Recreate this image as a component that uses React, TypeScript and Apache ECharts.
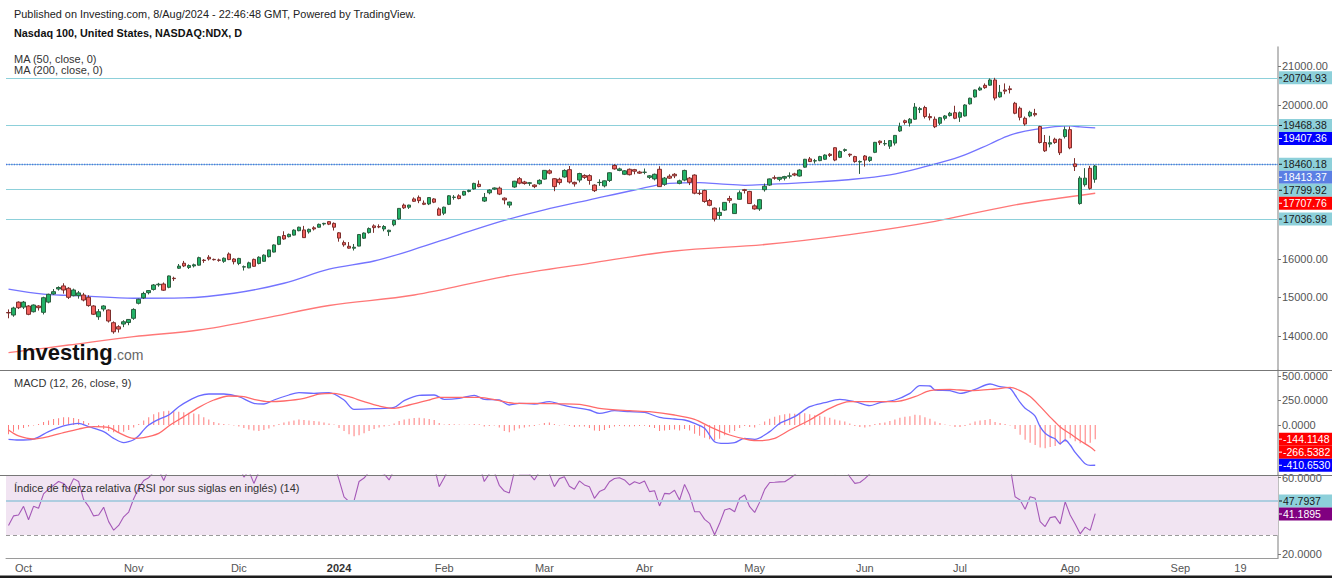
import React, { useEffect, useRef } from 'react';
import * as echarts from 'echarts';

// ---------- DATA ----------
const sessions: [string, number[]][] = [
  ['2023-09', [27, 28, 29]],
  ['2023-10', [2, 3, 4, 5, 6, 9, 10, 11, 12, 13, 16, 17, 18, 19, 20, 23, 24, 25, 26, 27, 30, 31]],
  ['2023-11', [1, 2, 3, 6, 7, 8, 9, 10, 13, 14, 15, 16, 17, 20, 21, 22, 24, 27, 28, 29, 30]],
  ['2023-12', [1, 4, 5, 6, 7, 8, 11, 12, 13, 14, 15, 18, 19, 20, 21, 22, 26, 27, 28, 29]],
  ['2024-01', [2, 3, 4, 5, 8, 9, 10, 11, 12, 16, 17, 18, 19, 22, 23, 24, 25, 26, 29, 30, 31]],
  ['2024-02', [1, 2, 5, 6, 7, 8, 9, 12, 13, 14, 15, 16, 20, 21, 22, 23, 26, 27, 28, 29]],
  ['2024-03', [1, 4, 5, 6, 7, 8, 11, 12, 13, 14, 15, 18, 19, 20, 21, 22, 25, 26, 27, 28]],
  ['2024-04', [1, 2, 3, 4, 5, 8, 9, 10, 11, 12, 15, 16, 17, 18, 19, 22, 23, 24, 25, 26, 29, 30]],
  ['2024-05', [1, 2, 3, 6, 7, 8, 9, 10, 13, 14, 15, 16, 17, 20, 21, 22, 23, 24, 28, 29, 30, 31]],
  ['2024-06', [3, 4, 5, 6, 7, 10, 11, 12, 13, 14, 17, 18, 20, 21, 24, 25, 26, 27, 28]],
  ['2024-07', [1, 2, 3, 5, 8, 9, 10, 11, 12, 15, 16, 17, 18, 19, 22, 23, 24, 25, 26, 29, 30, 31]],
  ['2024-08', [1, 2, 5, 6, 7, 8, 9, 12, 13, 14, 15, 16, 19, 20, 21, 22, 23, 26, 27, 28, 29, 30]],
  ['2024-09', [3, 4, 5, 6, 9, 10, 11, 12, 13, 16, 17, 18, 19, 20, 23, 24, 25, 26, 27, 30]],
];

const monthLabels: Record<string, string> = {
  '2023-10-02': 'Oct', '2023-11-01': 'Nov', '2023-12-01': 'Dic', '2024-01-02': '2024',
  '2024-02-01': 'Feb', '2024-03-01': 'Mar', '2024-04-01': 'Abr', '2024-05-01': 'May',
  '2024-06-03': 'Jun', '2024-07-01': 'Jul', '2024-08-01': 'Ago', '2024-09-03': 'Sep', '2024-09-19': '19',
};

const opens = [
  14610, 14545, 14880, 14750, 14779, 14631, 14779, 14615, 14880, 15091,
  15220, 15300, 15240, 15047, 15050, 15065, 15005, 14780, 14500, 14700,
  14675, 14345, 14240, 14310, 14350, 14460, 14850, 14990, 15125, 15210,
  15330, 15350, 15265, 15500, 15760, 15890, 15780, 15820, 15840, 15970,
  16045, 15990, 15975, 15940, 16130, 16000, 15885, 15790, 15770, 15990,
  15885, 15940, 16060, 16180, 16380, 16610, 16580, 16620, 16735, 16755,
  16705, 16810, 16825, 16910, 16970, 16925, 16680, 16425, 16330, 16280,
  16335, 16540, 16685, 16860, 16840, 16780, 16710, 16890, 17040, 17400,
  17345, 17560, 17600, 17450, 17430, 17560, 17300, 17190, 17420, 17600,
  17640, 17660, 17755, 17820, 17940, 17505, 17720, 17815, 17840, 17580,
  17400, 17870, 18085, 18000, 17965, 17920, 17955, 18075, 18290, 18085,
  18070, 18130, 18320, 17990, 18050, 18170, 18165, 17920, 17985, 17900,
  18040, 18430, 18300, 18200, 18330, 18320, 18260, 18250, 18120, 18080,
  18330, 17940, 18150, 18200, 17965, 18050, 18100, 18180, 17710, 17780,
  17520, 17320, 17130, 17270, 17570, 17180, 17550, 17800, 17755, 17380,
  17300, 17800, 17920, 18110, 18070, 18100, 18150, 18210, 18155, 18385,
  18600, 18545, 18555, 18590, 18720, 18890, 18640, 18820, 18720, 18660,
  18520, 18675, 18560, 18770, 19060, 18990, 18930, 19010, 19325, 19590,
  19530, 19630, 19880, 19935, 19700, 19630, 19525, 19655, 19725, 19800,
  19680, 19715, 20030, 20210, 20390, 20510, 20515, 20650, 20210, 20390,
  20420, 20045, 19915, 19655, 19715, 19780, 19440, 19025, 18985, 19110,
  19110, 19180, 19360, 18470, 17440, 17930, 18355, 18070,
];
const closes = [
  14600, 14727, 14735, 14880, 14563, 14805, 14735, 14995, 15083, 15151,
  15260, 15195, 15005, 15195, 15120, 14935, 14790, 14565, 14630, 14780,
  14390, 14110, 14180, 14370, 14430, 14690, 14955, 15105, 15180, 15325,
  15345, 15190, 15560, 15490, 15815, 15820, 15830, 15850, 16035, 15960,
  16000, 15982, 15965, 16020, 15985, 15930, 16015, 15800, 15900, 15810,
  16045, 16100, 16235, 16365, 16580, 16520, 16640, 16750, 16825, 16555,
  16770, 16780, 16900, 16925, 16905, 16826, 16543, 16368, 16282, 16305,
  16636, 16674, 16790, 16815, 16832, 16844, 16747, 17000, 17314, 17329,
  17400, 17499, 17516, 17421, 17596, 17476, 17137, 17345, 17642, 17606,
  17570, 17755, 17783, 17963, 17882, 17600, 17790, 17845, 17686, 17535,
  17478, 18020, 17970, 17960, 17980, 17880, 18043, 18302, 18230, 17880,
  17985, 18300, 18000, 17950, 18220, 18120, 18040, 17775, 17990, 18030,
  18240, 18340, 18340, 18290, 18190, 18280, 18230, 18255, 18160, 18200,
  17880, 18100, 18100, 18160, 18030, 18300, 17990, 17710, 17700, 17495,
  17395, 17037, 17210, 17470, 17525, 17430, 17720, 17780, 17440, 17300,
  17540, 17890, 18080, 18100, 18120, 18140, 18160, 18180, 18310, 18590,
  18530, 18553, 18660, 18700, 18690, 18570, 18790, 18840, 18700, 18530,
  18530, 18570, 18645, 19030, 19020, 19000, 19075, 19210, 19440, 19545,
  19630, 19945, 19905, 19700, 19670, 19435, 19670, 19715, 19785, 19655,
  19800, 20000, 20175, 20390, 20440, 20450, 20650, 20180, 20330, 20360,
  20400, 19785, 19680, 19505, 19810, 19745, 19025, 18810, 19020, 19025,
  18760, 19360, 18885, 18400, 18100, 18100, 17835, 18413.37,
];
const highs = [
  14690, 14760, 14900, 14910, 14800, 14820, 14800, 15020, 15100, 15220,
  15290, 15370, 15270, 15230, 15170, 15120, 15060, 14800, 14700, 14800,
  14690, 14380, 14280, 14410, 14440, 14720, 14970, 15150, 15190, 15350,
  15380, 15390, 15570, 15540, 15870, 15950, 15860, 15880, 16060, 16000,
  16100, 16010, 16010, 16040, 16170, 16020, 16030, 15830, 15930, 16010,
  16070, 16120, 16240, 16380, 16600, 16720, 16660, 16770, 16840, 16860,
  16790, 16850, 16920, 16940, 16980, 16950, 16700, 16480, 16440, 16390,
  16650, 16690, 16820, 16900, 16900, 16880, 16760, 17020, 17320, 17440,
  17410, 17600, 17650, 17520, 17600, 17580, 17340, 17360, 17660, 17660,
  17680, 17770, 17800, 17980, 18040, 17714, 17810, 17860, 17880, 17600,
  17490, 18030, 18130, 18030, 18000, 17940, 18070, 18310, 18330, 18100,
  18110, 18330, 18416, 18010, 18240, 18200, 18200, 17940, 18070, 18040,
  18250, 18465, 18370, 18310, 18350, 18340, 18290, 18350, 18180, 18220,
  18410, 18130, 18200, 18230, 18060, 18320, 18130, 18200, 17790, 17800,
  17560, 17340, 17340, 17480, 17640, 17440, 17780, 17820, 17770, 17420,
  17560, 17960, 18090, 18170, 18130, 18160, 18250, 18240, 18330, 18600,
  18650, 18600, 18680, 18720, 18750, 18900, 18820, 18870, 18740, 18680,
  18560, 18700, 18660, 19040, 19080, 19090, 19090, 19220, 19540, 19620,
  19660, 20050, 19950, 19980, 19780, 19700, 19690, 19740, 19820, 19980,
  19830, 20020, 20190, 20400, 20480, 20560, 20690, 20705, 20520, 20560,
  20500, 20080, 19960, 19700, 19850, 19900, 19460, 19220, 19200, 19150,
  19130, 19440, 19440, 18620, 18150, 18360, 18420, 18440,
];
const lows = [
  14460, 14500, 14700, 14700, 14540, 14610, 14660, 14560, 14850, 15070,
  15180, 15100, 14960, 15030, 14970, 14900, 14760, 14545, 14420, 14640,
  14350, 14060, 14090, 14230, 14280, 14420, 14820, 14960, 15080, 15180,
  15280, 15170, 15240, 15430, 15740, 15790, 15740, 15780, 15830, 15900,
  15960, 15960, 15930, 15900, 15970, 15860, 15840, 15700, 15760, 15800,
  15860, 15930, 16040, 16170, 16360, 16500, 16560, 16610, 16720, 16550,
  16660, 16740, 16815, 16870, 16880, 16740, 16450, 16320, 16270, 16220,
  16330, 16520, 16660, 16680, 16800, 16720, 16600, 16850, 17020, 17300,
  17300, 17480, 17450, 17400, 17400, 17450, 17130, 17140, 17400, 17540,
  17550, 17640, 17730, 17800, 17860, 17480, 17680, 17790, 17660, 17420,
  17330, 17850, 17940, 17930, 17900, 17840, 17930, 18060, 18200, 17760,
  17930, 18110, 17960, 17880, 17990, 18080, 17930, 17740, 17900, 17860,
  18000, 18320, 18280, 18180, 18170, 18200, 18210, 18200, 18080, 18040,
  17870, 17900, 18080, 18100, 17940, 18020, 17920, 17680, 17660, 17460,
  17370, 16975, 17030, 17250, 17460, 17170, 17540, 17700, 17430, 17280,
  17250, 17750, 17900, 18060, 18020, 18040, 18090, 18150, 18140, 18370,
  18520, 18480, 18540, 18570, 18650, 18540, 18620, 18780, 18650, 18500,
  18210, 18400, 18520, 18750, 18960, 18940, 18860, 18950, 19300, 19490,
  19440, 19610, 19790, 19650, 19600, 19400, 19480, 19600, 19700, 19630,
  19560, 19700, 20010, 20190, 20370, 20420, 20500, 20120, 20190, 20280,
  20300, 19760, 19600, 19460, 19680, 19700, 19000, 18780, 18900, 18990,
  18700, 19130, 18850, 18285, 17410, 17880, 17800, 17980,
];

// moving averages read at sample sessions: [session index, value]
const ma50: [number, number][] = [
  [0, 15220], [7, 15090], [15, 15040], [25, 14980], [35, 14990], [45, 15110], [55, 15370],
  [64, 15735], [73, 15948], [81, 16249], [90, 16634], [99, 17003], [107, 17278], [116, 17535],
  [125, 17792], [132, 17966], [138, 17983], [142, 17950], [147, 17914], [152, 17940], [160, 17990],
  [167, 18052], [176, 18182], [183, 18397], [190, 18657], [196, 18987], [200, 19220], [205, 19368],
  [212, 19455], [214, 19430], [217, 19407.36],
];
const ma200: [number, number][] = [
  [0, 13566], [12, 13766], [25, 13983], [38, 14156], [51, 14460], [64, 14792], [81, 15065],
  [99, 15545], [116, 15888], [133, 16208], [151, 16377], [168, 16634], [185, 16977], [200, 17382],
  [217, 17707.76],
];

const levels = [20704.93, 19468.38, 18460.18, 17799.92, 17036.98];
const dottedLevel = 18460.18;

const macdLine: [number, number][] = [
  [0, -146], [2, -153], [5, -143], [8, -68], [11, -10], [14, 17], [16, -17], [19, -68], [21, -136],
  [23, -180], [24, -170], [25, -150], [26, -110], [27, -50], [28, 0], [30, 58], [32, 102], [34, 187],
  [36, 248], [38, 296], [40, 316], [43, 316], [46, 289], [49, 221], [51, 214], [53, 255], [56, 306],
  [58, 330], [61, 323], [64, 330], [67, 255], [69, 160], [73, 166], [77, 180], [79, 248], [82, 303],
  [85, 306], [87, 262], [90, 272], [93, 303], [95, 262], [98, 255], [100, 204], [102, 221], [105, 214],
  [108, 238], [110, 214], [112, 187], [116, 153], [118, 119], [121, 146], [124, 136], [127, 129],
  [130, 78], [133, 61], [135, 51], [137, 17], [139, -34], [141, -170], [143, -187], [145, -180],
  [147, -136], [149, -146], [152, -68], [154, 17], [157, 85], [160, 187], [163, 228], [166, 262],
  [169, 238], [172, 197], [174, 228], [177, 255], [180, 323], [182, 401], [184, 398], [185, 357],
  [188, 350], [190, 323], [193, 364], [196, 418], [198, 391], [200, 374], [201, 306], [202, 230],
  [203, 170], [204, 136], [205, 90], [206, -17], [207, -85], [208, -119], [209, -140], [210, -190],
  [211, -153], [212, -204], [213, -280], [214, -340], [215, -395], [216, -412], [217, -410.653],
];
const signalLine: [number, number][] = [
  [0, -51], [2, -112], [5, -143], [8, -119], [11, -78], [14, -41], [17, -17], [20, -24], [22, -78],
  [25, -136], [27, -129], [30, -85], [32, -10], [35, 85], [38, 180], [41, 255], [44, 296], [47, 289],
  [49, 262], [52, 238], [55, 245], [59, 272], [62, 316], [65, 323], [68, 289], [71, 238], [74, 194],
  [77, 170], [80, 204], [84, 255], [86, 282], [90, 282], [94, 282], [98, 248], [101, 221], [105, 221],
  [110, 216], [114, 211], [118, 170], [124, 146], [128, 136], [133, 102], [137, 58], [140, -17],
  [144, -102], [148, -153], [150, -160], [153, -136], [156, -51], [160, 51], [164, 170], [168, 238],
  [173, 238], [177, 238], [181, 289], [184, 350], [188, 364], [192, 350], [197, 367], [200, 384],
  [202, 350], [204, 290], [206, 190], [208, 80], [209, 30], [210, -20], [212, -90], [214, -160],
  [216, -225], [217, -266.5382],
];
const macdHist = [
  -95, -70, -45, -30, -15, -5, 10, 30, 45, 60,
  70, 78, 80, 72, 60, 40, 20, 0, -20, -40,
  -60, -75, -78, -70, -50, -25, 10, 45, 80, 110,
  130, 140, 146, 140, 135, 130, 125, 118, 110, 80,
  55, 30, 18, 10, 5, -5, -15, -30, -45, -55,
  -60, -50, -35, -15, 10, 25, 35, 45, 55, 50,
  45, 40, 35, 25, 15, 5, -30, -60, -95, -115,
  -105, -85, -60, -40, -25, -15, -8, 15, 40, 55,
  65, 72, 75, 70, 60, 50, 20, 5, 10, 8,
  5, 3, 5, 10, 8, -15, -10, -5, -25, -60,
  -75, -55, -35, -25, -15, -10, 5, 20, 25, 10,
  -5, 5, -10, -20, -15, -15, -30, -55, -60, -50,
  -30, -15, -10, -12, -15, -12, -10, -8, -20, -30,
  -60, -55, -50, -45, -55, -40, -55, -90, -110, -130,
  -145, -155, -140, -105, -80, -60, -30, -10, -20, -25,
  5, 35, 65, 85, 100, 110, 118, 115, 112, 120,
  110, 100, 95, 85, 75, 55, 45, 35, 15, -10,
  -20, -25, -15, 10, 20, 25, 40, 55, 75, 85,
  90, 105, 100, 80, 65, 35, 20, 5, -5, -20,
  -20, -10, 15, 35, 45, 50, 60, 30, 20, 10,
  -5, -40, -100, -150, -180, -205, -230, -238, -225, -214,
  -205, -170, -136, -165, -187, -194, -180, -144.1148,
];
const rsi = [
  35, 40, 40.5, 45, 38, 45, 44, 51.5, 54, 56,
  58, 57, 54, 59.5, 58, 48.5, 45, 40, 40.5, 44.5,
  37, 32.5, 35, 39.5, 42, 49, 54.5, 58.5, 60, 63,
  64, 58.5, 65, 64, 70, 69, 69, 69.5, 72, 70,
  70.5, 70, 69.5, 70, 67, 65, 66, 60.3, 63.5, 57,
  63, 65, 68, 71, 74, 72, 73, 75, 76, 68,
  70, 70, 72, 72, 70, 67, 59, 50, 47.5, 47.8,
  58, 59.8, 63, 63, 62.5, 62, 58.8, 64, 70, 69,
  70, 71, 70, 67, 69, 66, 55.3, 60, 65, 65,
  64, 66, 67, 69, 67, 58, 62, 63, 56, 53,
  52, 63, 62, 62, 62, 58.8, 63, 68, 62, 55.3,
  59.5, 60.5, 55.5, 53.9, 58.3, 56.2, 55.3, 49.2, 52.7, 53.9,
  57.9, 59.6, 60, 58.8, 56.2, 57.9, 57, 58.3, 52.7, 53.2,
  45.2, 51.8, 51.5, 53.4, 48.3, 56.5, 50.9, 42.2, 42.2, 38.2,
  36.1, 30.1, 36.1, 43.1, 43.9, 42.2, 49.2, 50.9, 44.8, 41.8,
  47.2, 53.9, 57.5, 57.6, 57.8, 57.9, 59.6, 61.5, 64, 68,
  66, 66, 67, 68, 67, 62, 65, 65, 60.5, 57,
  57.5, 59.5, 62, 67, 66, 66, 68, 70, 73, 74,
  75, 78, 77, 70, 69, 64, 67, 68, 69, 65,
  67, 72, 74, 77, 77, 76, 78, 65, 67, 67,
  66, 50, 48.3, 43.5, 50, 49.2, 37, 34.4, 39.1, 39.6,
  35.8, 47.4, 40.5, 35.8, 30.6, 34.1, 32.4, 41.1895,
];
const rsiLevel = 47.7937;
const rsiBand = [30, 70];

// axis tick labels left visible (the others sit under the value tags)
const priceTicks = [14000, 15000, 16000, 20000, 21000];
const macdTicks = [0, 250, 500];
const rsiTicks = [20, 60];

// ---------- LAYOUT / STYLE ----------
const W = 1332;
const H = 578;
const FONT = '"Liberation Sans", Arial, Helvetica, sans-serif';
const CYAN = '#8dd0da';
const AXIS_X = 1278;
const GRID_L = 6;
const GRID_R = W - AXIS_X;
const MAIN_MIN = 13117, MAIN_MAX = 21506;
const MACD_MIN = -510, MACD_MAX = 561;
const RSI_MIN = 17.96, RSI_MAX = 61.4;

const dates: string[] = sessions.flatMap(([m, days]) => days.map((d) => `${m}-${String(d).padStart(2, '0')}`));

function yAxisCommon(fmt: (v: number) => string, ticks: number[]) {
  return {
    type: 'value',
    position: 'right',
    scale: true,
    splitLine: { show: false },
    axisLine: { show: true, lineStyle: { color: '#a8a8a8', width: 1.5 } },
    axisTick: { show: true, length: 3, lineStyle: { color: '#777' }, customValues: ticks },
    axisLabel: { color: '#555', fontSize: 11, fontFamily: FONT, margin: 4, formatter: fmt, customValues: ticks },
  };
}

function buildOption(): any {
  const candle = opens.map((o, i) => [o, closes[i], lows[i], highs[i]]);
  const xBase = (gridIndex: number) => ({
    type: 'category',
    gridIndex,
    data: dates,
    boundaryGap: true,
    show: gridIndex === 2,
    axisLine: { show: gridIndex === 2, lineStyle: { color: '#9a9a9a' } },
    axisTick: { show: false },
    splitLine: { show: false },
    axisLabel: {
      show: gridIndex === 2,
      interval: (_i: number, v: string) => v in monthLabels,
      formatter: (v: string) => (monthLabels[v] === '2024' ? '{b|2024}' : monthLabels[v] || ''),
      color: '#555',
      fontSize: 11,
      fontFamily: FONT,
      margin: 4,
      rich: { b: { fontWeight: 'bold', color: '#333', fontSize: 11, fontFamily: FONT } },
    },
  });
  return {
    animation: false,
    backgroundColor: '#ffffff',
    grid: [
      { left: GRID_L, right: GRID_R, top: 47, height: 323, outerBoundsMode: 'none' },
      { left: GRID_L, right: GRID_R, top: 370, height: 105, outerBoundsMode: 'none' },
      { left: GRID_L, right: GRID_R, top: 475, height: 83, outerBoundsMode: 'none' },
    ],
    xAxis: [xBase(0), xBase(1), xBase(2)],
    yAxis: [
      { ...yAxisCommon((v) => v.toFixed(2), priceTicks), gridIndex: 0, min: MAIN_MIN, max: MAIN_MAX },
      { ...yAxisCommon((v) => v.toFixed(4), macdTicks), gridIndex: 1, min: MACD_MIN, max: MACD_MAX },
      { ...yAxisCommon((v) => v.toFixed(4), rsiTicks), gridIndex: 2, min: RSI_MIN, max: RSI_MAX },
    ],
    series: [
      {
        type: 'candlestick',
        xAxisIndex: 0,
        yAxisIndex: 0,
        data: candle,
        barWidth: 4,
        itemStyle: {
          color: '#22b267',
          color0: '#f0605c',
          borderColor: '#2b5e3f',
          borderColor0: '#7d2e2c',
          borderWidth: 1,
        },
        markLine: {
          silent: true,
          symbol: 'none',
          label: { show: false },
          lineStyle: { color: CYAN, type: 'solid', width: 1.2 },
          data: [
            ...levels.map((v) => ({ yAxis: v })),
            { yAxis: dottedLevel, lineStyle: { color: '#4f74e0', type: 'dotted', width: 1.3 } },
          ],
        },
        z: 5,
      },
      {
        type: 'line', xAxisIndex: 0, yAxisIndex: 0, data: ma50, showSymbol: false, smooth: 0.35,
        lineStyle: { color: '#7474ff', width: 1.3 }, z: 3,
      },
      {
        type: 'line', xAxisIndex: 0, yAxisIndex: 0, data: ma200, showSymbol: false, smooth: 0.35,
        lineStyle: { color: '#ff7878', width: 1.3 }, z: 3,
      },
      {
        type: 'bar', xAxisIndex: 1, yAxisIndex: 1, data: macdHist, barWidth: 1,
        itemStyle: { color: '#ff7a7a' },
      },
      {
        type: 'line', xAxisIndex: 1, yAxisIndex: 1, data: macdLine, showSymbol: false, smooth: 0.3,
        lineStyle: { color: '#6a6aff', width: 1.3 },
      },
      {
        type: 'line', xAxisIndex: 1, yAxisIndex: 1, data: signalLine, showSymbol: false, smooth: 0.3,
        lineStyle: { color: '#ff6a6a', width: 1.3 },
      },
      {
        type: 'line', xAxisIndex: 2, yAxisIndex: 2, data: rsi, showSymbol: false,
        lineStyle: { color: '#a559b8', width: 1.1 },
        markArea: {
          silent: true,
          itemStyle: { color: '#f1e4f2' },
          data: [[{ yAxis: rsiBand[0] }, { yAxis: RSI_MAX }]],
        },
        markLine: {
          silent: true,
          symbol: 'none',
          label: { show: false },
          data: [
            { yAxis: rsiLevel, lineStyle: { color: '#aecde0', type: 'solid', width: 2 } },
            { yAxis: rsiBand[0], lineStyle: { color: '#9a9a9a', type: [4, 3], width: 1 } },
          ],
        },
      },
    ],
  };
}

type Tag = { v: number; text: string; bg: string; fg: string };

function stackTags(chart: echarts.ECharts, axis: number, tags: Tag[]) {
  const placed = tags
    .map((t) => ({ ...t, y: chart.convertToPixel({ yAxisIndex: axis } as any, t.v) as number }))
    .sort((a, b) => a.y - b.y);
  for (let i = 1; i < placed.length; i++) {
    if (placed[i].y < placed[i - 1].y + 13) placed[i].y = placed[i - 1].y + 13;
  }
  return placed.map((t) => ({
    type: 'group',
    children: [
      { type: 'rect', shape: { x: AXIS_X + 1, y: t.y - 6.5, width: 53, height: 13 }, style: { fill: t.bg } },
      { type: 'line', shape: { x1: AXIS_X + 1, y1: t.y, x2: AXIS_X + 4, y2: t.y }, style: { stroke: t.fg, lineWidth: 1 } },
      {
        type: 'text', x: AXIS_X + 5, y: t.y,
        style: { text: t.text, fill: t.fg, font: `10.5px ${FONT}`, verticalAlign: 'middle', align: 'left' },
      },
    ],
  }));
}

function buildGraphics(chart: echarts.ECharts): any[] {
  const last = closes.length - 1;
  const dark = '#1a1a1a';
  const priceTags: Tag[] = [
    ...levels.map((v) => ({ v, text: v.toFixed(2), bg: CYAN, fg: dark })),
    { v: ma50[ma50.length - 1][1], text: ma50[ma50.length - 1][1].toFixed(2), bg: '#0000ff', fg: '#fff' },
    { v: closes[last], text: closes[last].toFixed(2), bg: '#5b7fe4', fg: '#fff' },
    { v: ma200[ma200.length - 1][1], text: ma200[ma200.length - 1][1].toFixed(2), bg: '#ff0000', fg: '#fff' },
  ];
  const macdTags: Tag[] = [
    { v: macdHist[last], text: macdHist[last].toFixed(4), bg: '#ff0000', fg: '#fff' },
    { v: signalLine[signalLine.length - 1][1], text: signalLine[signalLine.length - 1][1].toFixed(4), bg: '#ff0000', fg: '#fff' },
    { v: macdLine[macdLine.length - 1][1], text: macdLine[macdLine.length - 1][1].toFixed(4), bg: '#0000ff', fg: '#fff' },
  ];
  const rsiTags: Tag[] = [
    { v: rsiLevel, text: rsiLevel.toFixed(4), bg: CYAN, fg: dark },
    { v: rsi[last], text: rsi[last].toFixed(4), bg: '#800080', fg: '#fff' },
  ];
  const txt = (x: number, y: number, text: string, font: string, fill = '#222') => ({
    type: 'text', x, y, z: 20, style: { text, font, fill, verticalAlign: 'middle', align: 'left' },
  });
  return [
    txt(14, 14, 'Published on Investing.com, 8/Aug/2024 - 22:46:48 GMT, Powered by TradingView.', `10.9px ${FONT}`),
    txt(14, 33, 'Nasdaq 100, United States, NASDAQ:NDX, D', `bold 10.8px ${FONT}`, '#111'),
    txt(14, 59, 'MA (50, close, 0)', `11px ${FONT}`, '#333'),
    txt(14, 70, 'MA (200, close, 0)', `11px ${FONT}`, '#333'),
    txt(14, 383, 'MACD (12, 26, close, 9)', `11px ${FONT}`, '#333'),
    txt(14, 488, 'Índice de fuerza relativa (RSI por sus siglas en inglés) (14)', `11px ${FONT}`, '#333'),
    txt(16, 352, 'Investing', `bold 22px ${FONT}`, '#111'),
    txt(113, 355, '.com', `14px ${FONT}`, '#666'),
    { type: 'line', z: 15, shape: { x1: 0, y1: 370.5, x2: W, y2: 370.5 }, style: { stroke: '#777', lineWidth: 1 } },
    { type: 'line', z: 15, shape: { x1: 0, y1: 475.5, x2: W, y2: 475.5 }, style: { stroke: '#777', lineWidth: 1 } },
    { type: 'rect', z: 15, shape: { x: 0, y: 575.5, width: W, height: 2.5 }, style: { fill: '#1c1c1c' } },
    ...stackTags(chart, 0, priceTags),
    ...stackTags(chart, 1, macdTags),
    ...stackTags(chart, 2, rsiTags),
  ];
}

export default function App() {
  const ref = useRef<HTMLDivElement>(null);
  useEffect(() => {
    if (!ref.current) return;
    const chart = echarts.init(ref.current, null, { renderer: 'svg', width: W, height: H });
    chart.setOption(buildOption());
    chart.setOption({ graphic: buildGraphics(chart) });
    return () => chart.dispose();
  }, []);
  return (
    <div
      ref={ref}
      style={{ position: 'fixed', left: 0, top: 0, width: W, height: H, background: '#fff' }}
    />
  );
}
